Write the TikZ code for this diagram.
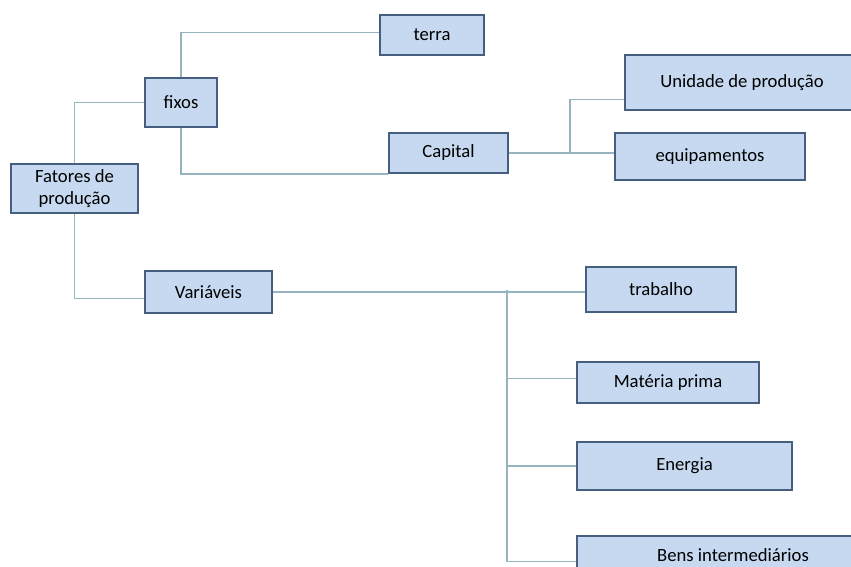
\documentclass[tikz,border=0pt]{standalone}
\usepackage{fontspec}
\setmainfont{Carlito}
\usepackage{tikz}
\usetikzlibrary{positioning, calc}
\definecolor{boxfill}{RGB}{198,217,240}
\definecolor{boxline}{RGB}{70,95,128}
\definecolor{linkline}{RGB}{150,180,192}
\tikzset{
  box/.style={rectangle, draw=boxline, fill=boxfill, line width=1.4pt,
    align=center, inner sep=0pt, font=\fontsize{14}{16}\selectfont},
  link/.style={color=linkline, line width=0.9pt}
}

\begin{document}
\begin{tikzpicture}[x=0.75pt, y=-0.75pt]
  \useasboundingbox (0,0) rectangle (851,567);

  % Boxes
  \node[box, minimum width=95.25pt, minimum height=36.75pt] (fat) at (74.5,188.5) {Fatores de\\produção};
  \node[box, minimum width=54pt, minimum height=36.75pt] (fix) at (181,102.5) {fixos};
  \node[box, minimum width=78pt, minimum height=30pt] (ter) at (432,35) {terra};
  \node[box, minimum width=89.25pt, minimum height=30pt] (cap) at (448.5,153) {Capital};
  \node[box, minimum width=175.5pt, minimum height=41.25pt] (uni) at (742,82.5) {Unidade de produção};
  \node[box, minimum width=142.5pt, minimum height=35.25pt] (equ) at (710,156.5) {equipamentos};
  \node[box, minimum width=95.25pt, minimum height=31.5pt] (var) at (208.5,292) {Variáveis};
  \node[box, minimum width=112.5pt, minimum height=33.75pt] (tra) at (661,289.5) {trabalho};
  \node[box, minimum width=136.5pt, minimum height=30.75pt] (mat) at (668,382.5) {Matéria prima};
  \node[box, minimum width=161.25pt, minimum height=36pt] (ene) at (684.5,466) {Energia};
  \node[box, minimum width=234pt, minimum height=28.5pt] (ben) at (733,555) {Bens intermediários};

  % Junctions
  \coordinate (capj) at (570,152);
  \coordinate (varj) at (507,290);

  % Links
  \draw[link] (fat.north) |- (fix.west);
  \draw[link] (fix.north) |- ([yshift=2pt]ter.west);
  \draw[link] (fix.south) |- (cap.south west);
  \draw[link] (cap.east) -- (equ.west |- cap.east);
  \draw[link] (capj) |- ([yshift=-13pt]uni.west);
  \draw[link] (fat.south) |- ([yshift=-5pt]var.west);
  \draw[link] (var.east) -- (var.east -| tra.west);
  \draw[link] (varj) |- ([yshift=-5pt]ben.west);
  \draw[link] (varj) |- ([yshift=3pt]mat.west);
  \draw[link] (varj) |- (ene.west);
\end{tikzpicture}
\end{document}
